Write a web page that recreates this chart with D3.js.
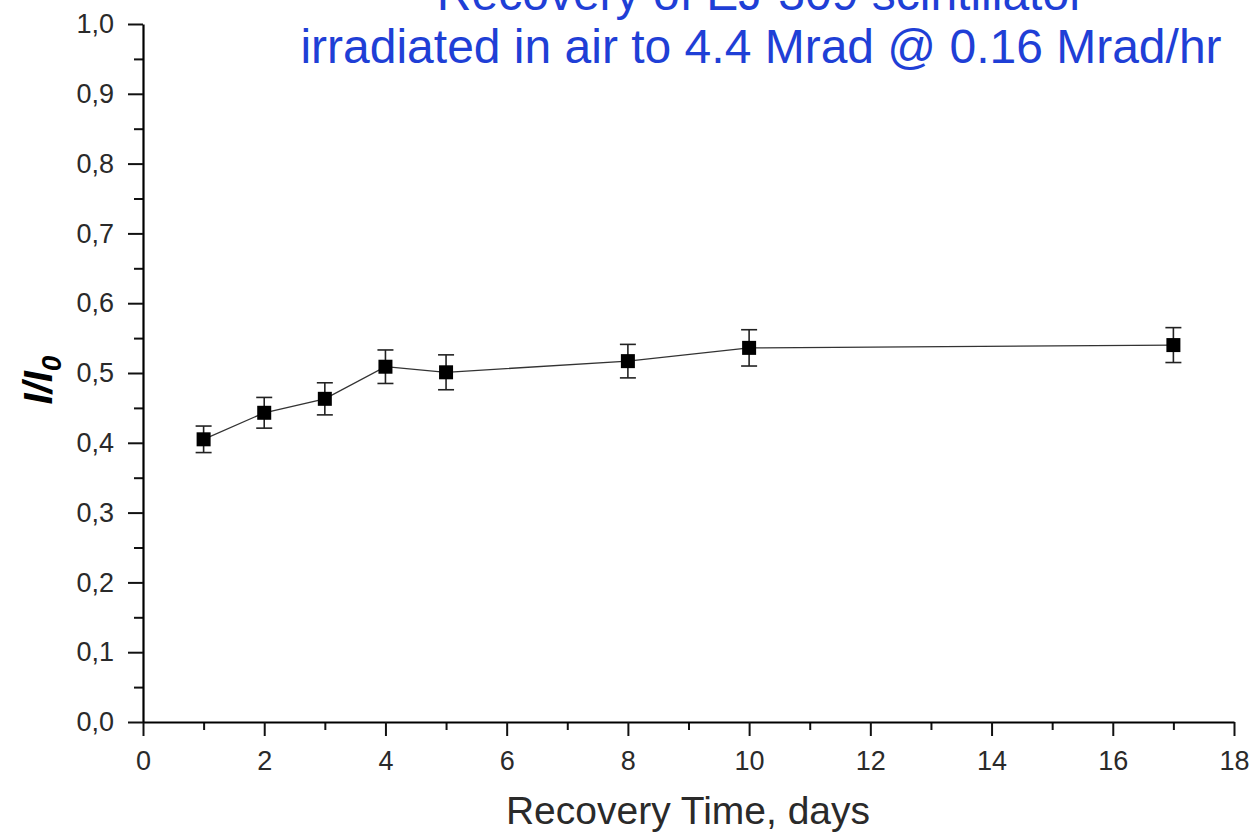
<!DOCTYPE html>
<html>
<head>
<meta charset="utf-8">
<script src="https://cdn.jsdelivr.net/npm/d3@7/dist/d3.min.js"></script>
<style>
  html, body { margin: 0; padding: 0; background: #fff; }
  svg { display: block; }
</style>
</head>
<body>
<svg id="chart" width="1252" height="832"></svg>
<script>
// Recovery measurements: days after irradiation, relative light output, uncertainty
const days = [1, 2, 3, 4, 5, 8, 10, 17];
const ratio = [0.405, 0.443, 0.463, 0.509, 0.501, 0.517, 0.536, 0.540];
const ratioErr = [0.019, 0.022, 0.023, 0.024, 0.025, 0.024, 0.026, 0.025];

const xTicks = [0, 2, 4, 6, 8, 10, 12, 14, 16, 18];
const yTicks = [0, 0.1, 0.2, 0.3, 0.4, 0.5, 0.6, 0.7, 0.8, 0.9, 1.0];

const titleLines = [
  "Recovery of EJ-309 scintillator",
  "irradiated in air to 4.4 Mrad @ 0.16 Mrad/hr"
];

const svg = d3.select("#chart");
const font = "'Liberation Sans', Arial, sans-serif";

const x = d3.scaleLinear().domain([0, 18]).range([143, 1234]);
const y = d3.scaleLinear().domain([0, 1]).range([722, 24]);

const fmt = d => d3.format(".1f")(d).replace(".", ",");

// Minor ticks sit halfway between the labelled ones
const xMinor = d3.range(1, 18, 2);
const yMinor = d3.range(0.05, 1, 0.1);

const gx = svg.append("g").attr("transform", `translate(0,${y(0)})`);
gx.append("g").call(d3.axisBottom(x).tickValues(xMinor).tickSize(8).tickFormat(""))
  .call(g => g.select(".domain").remove());
gx.append("g").call(d3.axisBottom(x).tickValues(xTicks).tickSizeInner(14).tickSizeOuter(0).tickPadding(15).tickFormat(d3.format("d")))
  .call(g => g.select(".domain").attr("stroke-width", 2.2));
gx.selectAll("line").attr("stroke", "#111").attr("stroke-width", 2);
gx.selectAll("text")
  .style("font-family", font).style("font-size", "27px").attr("fill", "#2a2a2a");

const gy = svg.append("g").attr("transform", `translate(${x(0)},0)`);
gy.append("g").call(d3.axisLeft(y).tickValues(yMinor).tickSize(9).tickFormat(""))
  .call(g => g.select(".domain").remove());
gy.append("g").call(d3.axisLeft(y).tickValues(yTicks).tickSizeInner(15).tickSizeOuter(0).tickPadding(14).tickFormat(fmt))
  .call(g => g.select(".domain").attr("stroke-width", 2.2));
gy.selectAll("line").attr("stroke", "#111").attr("stroke-width", 2);
gy.selectAll("text")
  .style("font-family", font).style("font-size", "27px").attr("fill", "#2a2a2a");

// Connecting line
const pts = days.map((d, i) => [d, ratio[i], ratioErr[i]]);
svg.append("path")
  .datum(pts)
  .attr("fill", "none")
  .attr("stroke", "#333")
  .attr("stroke-width", 1.3)
  .attr("d", d3.line().x(d => x(d[0])).y(d => y(d[1])));

// Error bars
const eb = svg.append("g").attr("stroke", "#222").attr("stroke-width", 1.6);
eb.selectAll("line.v").data(pts).join("line")
  .attr("x1", d => x(d[0])).attr("x2", d => x(d[0]))
  .attr("y1", d => y(d[1] - d[2])).attr("y2", d => y(d[1] + d[2]));
eb.selectAll("line.top").data(pts).join("line")
  .attr("x1", d => x(d[0]) - 8).attr("x2", d => x(d[0]) + 8)
  .attr("y1", d => y(d[1] + d[2])).attr("y2", d => y(d[1] + d[2]));
eb.selectAll("line.bot").data(pts).join("line")
  .attr("x1", d => x(d[0]) - 8).attr("x2", d => x(d[0]) + 8)
  .attr("y1", d => y(d[1] - d[2])).attr("y2", d => y(d[1] - d[2]));

// Square markers
svg.append("g").selectAll("rect").data(pts).join("rect")
  .attr("x", d => x(d[0]) - 7).attr("y", d => y(d[1]) - 7)
  .attr("width", 14).attr("height", 14)
  .attr("fill", "#000");

// Axis titles
svg.append("text")
  .attr("x", 688).attr("y", 824)
  .attr("text-anchor", "middle")
  .style("font-family", font).style("font-size", "39px").attr("fill", "#2a2a2a")
  .text("Recovery Time, days");

const yl = svg.append("text")
  .attr("transform", "translate(52,380) rotate(-90)")
  .attr("text-anchor", "middle")
  .style("font-family", font).style("font-size", "40px")
  .attr("font-weight", "bold").attr("font-style", "italic").attr("fill", "#000");
yl.append("tspan").text("I/I");
yl.append("tspan").attr("dy", 9).style("font-size", "28px").text("0");

// Title
const title = svg.append("g")
  .style("font-family", font).style("font-size", "48px").attr("fill", "#1f3fd6")
  .attr("text-anchor", "middle");
title.selectAll("text").data(titleLines).join("text")
  .attr("x", 761).attr("y", (d, i) => 10 + i * 53)
  .text(d => d);
</script>
</body>
</html>
